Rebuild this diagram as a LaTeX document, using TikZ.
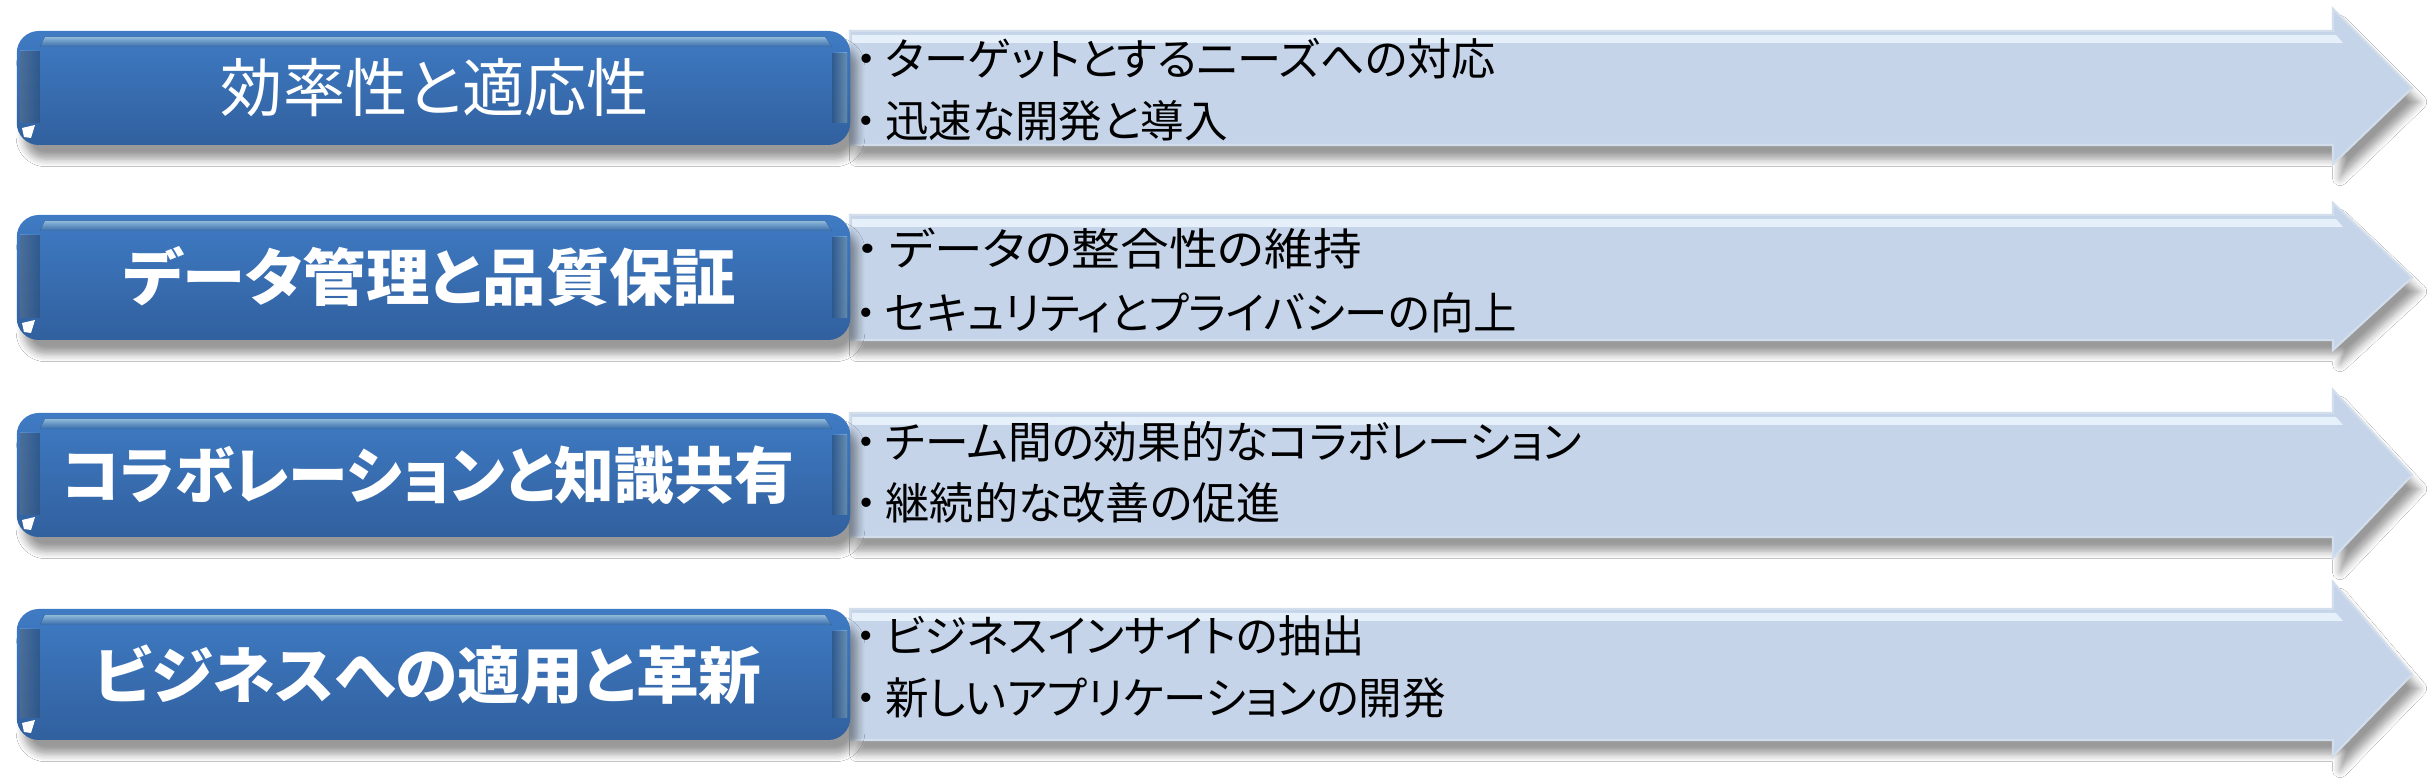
\documentclass[tikz,border=0pt]{standalone}
\usepackage{graphicx}
\usepackage{fontspec}
\setmainfont{Noto Sans CJK JP}
\newfontfamily\jp[RawFeature=+palt]{Noto Sans CJK JP}
\usetikzlibrary{shadows.blur}
\definecolor{boxtop}{HTML}{3F7BC4}
\definecolor{boxbot}{HTML}{31609E}
\definecolor{hilite}{HTML}{A6D6FA}
\definecolor{arrowfill}{HTML}{C5D4E9}
\definecolor{arrowhl}{HTML}{E6F0FA}
\definecolor{arrowedge}{HTML}{D3DEEC}
\newcommand\fitx[2]{\sbox0{#2}\pgfmathsetmacro\sxf{#1*0.284528/\the\wd0}\scalebox{\sxf}[1]{\usebox0}}
\newcommand\bdot{・\hspace{0.18em}}
\tikzset{
  bluebox/.style={rounded corners=22*0.01cm, top color=boxtop, bottom color=boxbot,
    blur shadow={shadow xshift=2pt, shadow yshift=-4pt, shadow blur steps=6, shadow opacity=40},
    minimum width=8.33cm, inner sep=0pt, text=white},
  arrowshape/.style={fill=arrowfill, draw=arrowedge, line width=0.6pt,
    blur shadow={shadow xshift=2pt, shadow yshift=-4pt, shadow blur steps=6, shadow opacity=40}},
  bullet/.style={anchor=west, inner sep=0pt, text=black, font=\jp\fontsize{12.5pt}{14pt}\selectfont},
  title/.style={font=\jp\fontsize{17.5pt}{20pt}\selectfont\bfseries},
  titlereg/.style={font=\jp\fontsize{18pt}{20pt}\selectfont}
}
\begin{document}
\begin{tikzpicture}[x=0.01cm,y=-0.01cm]
\useasboundingbox[fill=white] (0,0) rectangle (2430,783);
\newcommand\arw[5]{%
  \path[arrowshape] (850,#1) -- (2333,#1) -- (2333,#3) -- (2412,{(#1+#2)/2}) -- (2333,#4) -- (2333,#2) -- (850,#2) -- cycle;
  \fill[arrowhl] (852,#1+4) -- (2336,#1+4) -- (2343,#1+12) -- (852,#1+12) -- cycle;
  \coordinate (#5) at (2412,{(#1+#2)/2});
}
\newcommand\bx[4]{%
  \node[bluebox, minimum height={(#2-#1)*0.01cm}] (#3) at (433.5,{(#1+#2)/2}) {#4};
  \fill[top color=hilite, bottom color=boxtop, opacity=0.85] (45,#1+6) -- (825,#1+6) -- (832,#1+16) -- (40,#1+16) -- cycle;
  \fill[left color=boxtop!70!white, right color=boxtop, opacity=0.5] (20,#1+20) -- (40,#1+20) -- (40,#2-22) -- (20,#2-22) -- cycle;
  \fill[left color=boxtop, right color=hilite, opacity=0.55] (832,#1+22) -- (847,#1+22) -- (847,#2-22) -- (832,#2-22) -- cycle;
  \fill[white] (22,#2-17) -- (35,#2-20) -- (31,#2-7) -- (24,#2-8) -- cycle;
}
\arw{31}{145}{9}{164}{a1}
\arw{215}{340}{203}{350}{a2}
\arw{413}{537}{390}{558}{a3}
\arw{609}{740}{582}{756}{a4}
\bx{31}{145}{b1}{}
\bx{215}{340}{b2}{}
\bx{413}{537}{b3}{}
\bx{609}{740}{b4}{}
\node[titlereg, text=white] (t1) at (435,88) {\fitx{428}{効率性と適応性}};
\node[title, text=white] (t2) at (430,277) {\fitx{612}{データ管理と品質保証}};
\node[title, text=white] (t3) at (428,475) {\fitx{732}{コラボレーションと知識共有}};
\node[title, text=white] (t4) at (428,675) {\fitx{667}{ビジネスへの適用と革新}};
\node[bullet] (p1a) at (855,59) {\fitx{640}{\bdot ターゲットとするニーズへの対応}};
\node[bullet] (p1b) at (855,121) {\fitx{372}{\bdot 迅速な開発と導入}};
\node[bullet] (p2a) at (855,249) {\fitx{506}{\bdot データの整合性の維持}};
\node[bullet] (p2b) at (855,313) {\fitx{661}{\bdot セキュリティとプライバシーの向上}};
\node[bullet] (p3a) at (855,442) {\fitx{726}{\bdot チーム間の効果的なコラボレーション}};
\node[bullet] (p3b) at (855,503) {\fitx{425}{\bdot 継続的な改善の促進}};
\node[bullet] (p4a) at (855,636) {\fitx{509}{\bdot ビジネスインサイトの抽出}};
\node[bullet] (p4b) at (855,698) {\fitx{590}{\bdot 新しいアプリケーションの開発}};
\end{tikzpicture}
\end{document}
